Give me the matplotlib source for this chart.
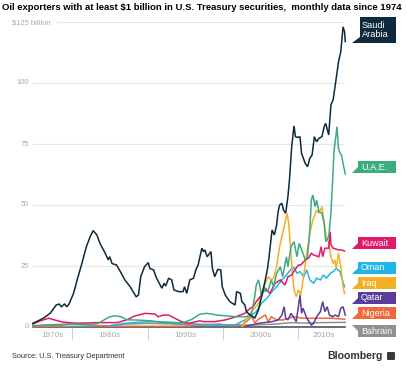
import matplotlib
matplotlib.use('Agg')
import matplotlib.pyplot as plt
from matplotlib.patches import Polygon, FancyBboxPatch

plt.rcParams['font.family'] = ['Liberation Sans', 'DejaVu Sans']

# === Dati (miliardi di $) ===
sa_year = [1974.8, 1975.5, 1976.2, 1977.1, 1977.9, 1978.3, 1978.6, 1979.0, 1979.3, 1979.6,
           1980.2, 1980.8, 1981.3, 1981.9, 1982.4, 1982.8, 1983.3, 1983.7, 1984.4, 1984.8,
           1985.0, 1985.3, 1985.9, 1986.4, 1987.0, 1987.7, 1988.5, 1988.8, 1989.1, 1989.6,
           1990.1, 1990.3, 1990.8, 1991.2, 1991.9, 1992.2, 1992.4, 1992.8, 1993.2, 1993.5,
           1994.1, 1994.7, 1994.9, 1995.2, 1995.6, 1996.1, 1996.4, 1996.7, 1997.2, 1997.4,
           1997.6, 1997.9, 1998.4, 1998.6, 1998.9, 1999.3, 1999.7, 1999.9, 2000.3, 2000.9,
           2001.6, 2001.8, 2002.3, 2002.5, 2002.9, 2003.1, 2003.6, 2004.0, 2004.2, 2004.7,
           2005.1, 2005.6, 2005.9, 2006.1, 2006.5, 2006.8, 2007.1, 2007.3, 2007.5, 2007.8,
           2008.0, 2008.3, 2008.6, 2008.8, 2009.1, 2009.4, 2009.6, 2009.9, 2010.2, 2010.4,
           2010.9, 2011.2, 2011.5, 2011.8, 2012.1, 2012.4, 2012.7, 2013.1, 2013.4, 2013.6,
           2014.0, 2014.3, 2014.6, 2015.0, 2015.3, 2015.6, 2015.9, 2016.1, 2016.2]
sa_val = [1.5, 2.5, 3.6, 5.6, 9.0, 9.4, 8.3, 9.4, 8.3, 9.4,
          13.8, 20.6, 26.0, 32.9, 37.0, 39.5, 37.7, 34.3, 30.2, 27.5,
          28.8, 26.0, 25.4, 22.7, 19.3, 16.5, 12.4, 13.1, 20.6, 24.7,
          26.4, 24.0, 23.4, 20.0, 15.9, 17.9, 16.8, 20.0, 19.3, 15.2,
          14.5, 14.5, 16.5, 13.8, 19.3, 20.0, 23.4, 25.4, 32.3, 30.9,
          31.6, 28.8, 30.9, 24.0, 20.6, 23.6, 23.4, 16.5, 13.1, 10.4,
          9.0, 14.5, 13.8, 10.4, 9.0, 6.3, 4.9, 4.2, 3.6, 7.0,
          12.4, 19.3, 24.0, 28.8, 39.8, 37.7, 41.8, 47.3, 50.0, 50.7,
          48.0, 46.6, 53.4, 60.2, 73.9, 82.4, 78.0, 77.7, 78.0, 71.2,
          67.0, 65.7, 69.1, 70.5, 78.0, 75.9, 77.3, 78.0, 82.1, 83.5,
          78.7, 91.0, 93.3, 102.0, 108.7, 112.8, 123.0, 121.0, 117.0]

uae_year = [1974.8, 1976.0, 1978.0, 1980.0, 1982.0, 1983.5, 1984.3, 1985.0, 1985.7, 1986.5,
            1987.2, 1988.0, 1989.0, 1990.5, 1992.0, 1993.5, 1994.7, 1995.8, 1996.9, 1997.8,
            1998.3, 1999.2, 2000.5, 2001.8, 2003.1, 2003.8, 2004.2, 2004.4, 2004.7, 2004.9,
            2005.1, 2005.5, 2005.6, 2006.0, 2006.4, 2006.7, 2007.1, 2007.6, 2007.9, 2008.4,
            2008.6, 2009.0, 2009.4, 2009.8, 2010.1, 2010.5, 2010.9, 2011.2, 2011.5, 2011.7,
            2011.9, 2012.2, 2012.4, 2012.7, 2013.1, 2013.4, 2013.6, 2014.0, 2014.3, 2014.5,
            2014.7, 2015.1, 2015.3, 2015.5, 2015.7, 2015.9, 2016.2]
uae_val = [0.5, 0.8, 1.0, 1.2, 1.0, 1.5, 3.0, 4.2, 4.6, 4.2,
           3.0, 2.9, 2.8, 2.5, 1.8, 1.5, 1.8, 3.0, 5.2, 5.6,
           5.4, 4.9, 4.5, 4.2, 4.2, 5.6, 12.4, 17.2, 19.3, 16.5,
           12.4, 16.5, 14.5, 15.2, 19.3, 16.5, 22.0, 24.7, 20.6, 28.8,
           24.7, 32.9, 35.0, 28.8, 34.3, 30.9, 27.5, 28.8, 39.8, 52.0,
           54.1, 49.3, 52.0, 47.3, 46.6, 42.5, 35.0, 37.0, 46.6, 58.9,
           71.9, 82.1, 73.2, 71.2, 70.5, 67.0, 62.7]

kw_year = [1974.8, 1975.8, 1976.9, 1977.8, 1978.8, 1980.6, 1983.3, 1986.0, 1987.2, 1988.3,
           1989.7, 1991.0, 1991.4, 1992.1, 1992.8, 1993.6, 1994.5, 1995.4, 1996.9, 1997.5,
           1998.9, 2000.3, 2001.5, 2002.9, 2003.6, 2004.0, 2004.4, 2005.1, 2005.6, 2006.2,
           2006.9, 2007.6, 2008.2, 2008.6, 2009.1, 2009.5, 2010.0, 2010.3, 2010.9, 2011.3,
           2011.7, 2012.0, 2012.7, 2013.0, 2013.2, 2013.5, 2014.0, 2014.2, 2014.3, 2014.6,
           2015.3, 2015.7, 2016.1]
kw_val = [1.2, 2.5, 3.6, 2.8, 2.0, 1.5, 1.8, 1.8, 2.9, 4.5,
          5.6, 5.3, 4.2, 4.9, 4.9, 3.6, 2.2, 1.5, 2.5, 2.2,
          2.2, 2.9, 4.0, 5.6, 7.7, 8.3, 10.4, 13.1, 15.9, 13.8,
          17.9, 19.3, 17.2, 20.6, 21.3, 23.4, 25.4, 25.4, 27.5, 28.1,
          30.2, 29.5, 28.8, 32.9, 28.8, 32.3, 32.3, 39.0, 33.6, 32.3,
          31.6, 31.6, 31.1]

om_year = [1985.0, 1987.0, 1989.0, 1991.0, 1993.0, 1995.0, 1996.5, 1998.0, 1999.5, 2001.0,
           2001.6, 2002.9, 2003.8, 2004.4, 2005.1, 2005.8, 2006.5, 2007.1, 2007.8, 2008.4,
           2009.1, 2009.4, 2009.8, 2010.2, 2010.7, 2011.1, 2011.5, 2012.0, 2012.4, 2012.9,
           2013.3, 2013.7, 2014.2, 2014.6, 2015.0, 2015.5, 2015.8, 2016.1]
om_val = [0.5, 1.5, 2.0, 2.2, 2.0, 1.5, 1.2, 1.0, 0.8, 0.8,
          0.8, 2.9, 4.9, 6.3, 9.7, 11.8, 14.5, 16.5, 19.3, 21.3,
          24.0, 24.4, 22.0, 22.7, 20.6, 23.4, 19.3, 17.9, 20.0, 19.3,
          21.3, 20.0, 22.0, 22.7, 24.0, 22.7, 19.3, 16.5]

iq_year = [2002.5, 2003.6, 2004.2, 2004.7, 2005.1, 2005.6, 2006.0, 2006.4, 2006.7, 2007.1,
           2007.5, 2007.8, 2008.1, 2008.5, 2008.7, 2009.0, 2009.2, 2009.4, 2009.7, 2010.0,
           2010.3, 2010.6, 2011.1, 2011.5, 2011.9, 2012.4, 2012.7, 2013.1, 2013.3, 2013.6,
           2014.0, 2014.3, 2014.6, 2014.8, 2015.0, 2015.3, 2015.6, 2015.9, 2016.1]
iq_val = [0.3, 5.6, 7.7, 9.7, 13.8, 17.9, 20.6, 19.3, 20.0, 24.7,
          32.9, 37.0, 41.1, 46.6, 42.5, 30.2, 22.0, 15.2, 12.4, 15.2,
          13.1, 19.3, 30.2, 38.4, 43.9, 47.9, 46.6, 49.3, 45.2, 38.4,
          34.3, 28.8, 26.0, 27.5, 24.0, 30.2, 24.7, 16.5, 13.8]

qa_year = [2003.0, 2004.7, 2006.5, 2007.3, 2007.8, 2008.1, 2008.3, 2008.6, 2009.0, 2009.3,
           2009.7, 2010.2, 2010.4, 2010.6, 2011.1, 2011.7, 2012.0, 2012.4, 2012.9, 2013.2,
           2013.5, 2013.8, 2014.1, 2014.5, 2014.9, 2015.3, 2015.6, 2015.9, 2016.2]
qa_val = [0.3, 1.5, 2.2, 2.9, 4.9, 8.3, 3.6, 2.9, 5.6, 4.2,
          2.2, 13.1, 5.6, 7.7, 3.6, 0.8, 1.5, 4.2, 6.3, 10.4,
          6.3, 8.3, 4.9, 4.2, 4.9, 4.2, 7.7, 8.3, 4.9]

ng_year = [1974.8, 1978.0, 1979.5, 1980.5, 1981.5, 1982.5, 1985.0, 1990.0, 1995.0, 1998.0,
           1999.5, 2001.0, 2002.5, 2003.1, 2003.8, 2004.2, 2004.9, 2005.6, 2006.0, 2006.4,
           2007.1, 2008.0, 2009.3, 2010.6, 2012.0, 2014.2, 2016.1]
ng_val = [0.3, 0.5, 1.2, 1.5, 1.3, 0.8, 0.3, 0.3, 0.3, 1.0,
          1.2, 0.5, 0.8, 2.2, 4.2, 1.8, 3.6, 4.9, 2.2, 4.2,
          2.9, 2.9, 4.2, 3.6, 3.6, 3.6, 3.2]

bh_year = [1974.8, 1980.0, 1985.0, 1987.0, 1990.0, 1993.0, 1996.0, 2000.0, 2004.0, 2007.0,
           2009.0, 2011.0, 2013.0, 2016.2]
bh_val = [0.2, 0.3, 0.5, 1.2, 1.5, 1.3, 0.8, 0.8, 0.8, 1.2, 1.8, 1.6, 1.8, 1.9]

y_ticks = [0, 25, 50, 75, 100, 125]
y_ticklabels = ['0', '25', '50', '75', '100', '$125 billion']
decade_edges = [1980, 1990, 2000, 2010]
decade_labels = ['1970s', '1980s', '1990s', '2000s', '2010s']
decade_label_pos = [1977.4, 1985.0, 1995.0, 2005.0, 2013.3]

# === Colori ===
C_SAUDI = '#0e2a3d'
C_UAE = '#3aad80'
C_KUWAIT = '#e2196a'
C_OMAN = '#1fb6e6'
C_IRAQ = '#f4b023'
C_QATAR = '#5a3c9c'
C_NIGERIA = '#f2673a'
C_BAHRAIN = '#909090'
C_GRID = '#e6e6e6'
C_TICK = '#a8a8a8'

W, H = 407, 370


def fx(px):
    return px / W


def fy(py):
    return 1 - py / H


fig = plt.figure(figsize=(W / 100, H / 100), dpi=100)
ax = fig.add_axes([fx(33), fy(327), (345 - 33) / W, (327 - 22) / H])
ax.set_xlim(1974.83, 2016.16)
ax.set_ylim(0, 125)
ax.axis('off')

# griglia orizzontale
for t in y_ticks[1:-1]:
    ax.axhline(t, color=C_GRID, lw=0.8, zorder=0)
ax.axhline(125, xmin=(57 - 33) / 312, color=C_GRID, lw=0.8, zorder=0)

# etichette asse y
for t, lab in zip(y_ticks, y_ticklabels):
    if t == 125:
        fig.text(fx(12), fy(23), lab, ha='left', va='center', fontsize=5.4, color=C_TICK)
    else:
        ax.text(-0.013, t, lab, transform=ax.get_yaxis_transform(),
                ha='right', va='center', fontsize=5.4, color=C_TICK)

# linee
series = [
    (bh_year, bh_val, C_BAHRAIN),
    (ng_year, ng_val, C_NIGERIA),
    (qa_year, qa_val, C_QATAR),
    (om_year, om_val, C_OMAN),
    (iq_year, iq_val, C_IRAQ),
    (kw_year, kw_val, C_KUWAIT),
    (uae_year, uae_val, C_UAE),
    (sa_year, sa_val, C_SAUDI),
]
for xs, ys, c in series:
    ax.plot(xs, ys, color=c, lw=1.1, solid_joinstyle='miter', clip_on=False, zorder=3)

# linea di base
ax.plot([1974.83, 2016.16], [0, 0], color='#3b4654', lw=1.1, clip_on=False, zorder=2)

# separatori decenni + etichette
for d in decade_edges:
    ax.plot([d, d], [-0.4, -5.0], color='#cfcfcf', lw=0.7, clip_on=False)
for p, lab in zip(decade_label_pos, decade_labels):
    ax.text(p, -3.3, lab, ha='center', va='center', fontsize=5.9, color=C_TICK)

# === Etichette paesi (bandierine) ===
labels = [
    ('U.A.E.', C_UAE, 161, 173, False),
    ('Kuwait', C_KUWAIT, 237, 249, False),
    ('Oman', C_OMAN, 262, 274, False),
    ('Iraq', C_IRAQ, 277, 289, False),
    ('Qatar', C_QATAR, 292, 304, False),
    ('Nigeria', C_NIGERIA, 307, 319, False),
    ('Bahrain', C_BAHRAIN, 325, 337, True),
]


def flag(text, color, top, bot, tail_up, left=358, right=396):
    if tail_up:
        pts = [(352, top), (right, top), (right, bot), (left, bot), (left, top + 6)]
    else:
        pts = [(left, top), (right, top), (right, bot), (352, bot), (left, bot - 6)]
    poly = Polygon([(fx(a), fy(b)) for a, b in pts], closed=True,
                   transform=fig.transFigure, facecolor=color, edgecolor='none')
    fig.patches.append(poly)
    fig.text(fx(left + 3), fy((top + bot) / 2), text, ha='left', va='center',
             fontsize=6.5, color='white')


for t, c, top, bot, up in labels:
    flag(t, c, top, bot, up)

# Saudi Arabia: due righe
sa_pts = [(360, 17), (396, 17), (396, 43), (352, 43), (360, 37)]
fig.patches.append(Polygon([(fx(a), fy(b)) for a, b in sa_pts], closed=True,
                           transform=fig.transFigure, facecolor=C_SAUDI, edgecolor='none'))
fig.text(fx(362), fy(30), 'Saudi\nArabia', ha='left', va='center', fontsize=6.6,
         color='white', linespacing=1.1)

# === Titolo, fonte, logo ===
fig.text(fx(2), fy(8), 'Oil exporters with at least $1 billion in U.S. Treasury securities,  monthly data since 1974',
         ha='left', va='center', fontsize=6.8, weight='bold', color='black')
fig.text(fx(12), fy(356), 'Source: U.S. Treasury Department', ha='left', va='center',
         fontsize=5.3, color='#333333')
fig.text(fx(383), fy(356), 'Bloomberg', ha='right', va='center', fontsize=7.6,
         weight='bold', color='#333333')
icon = FancyBboxPatch((fx(387), fy(360)), fx(8), 8 / H, boxstyle='round,pad=0,rounding_size=0.003',
                      transform=fig.transFigure, facecolor='#3a3a3a', edgecolor='none')
fig.patches.append(icon)

fig.savefig('out.png', dpi=100, facecolor='white')
